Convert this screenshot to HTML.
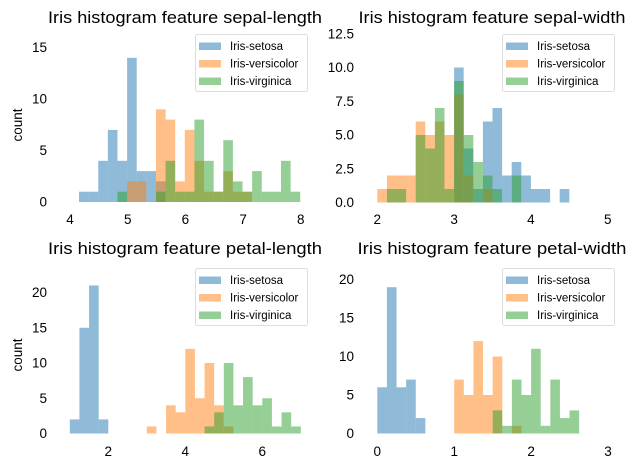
<!DOCTYPE html>
<html><head><meta charset="utf-8">
<style>
html,body{margin:0;padding:0;background:#fff;}
svg{display:block;font-family:"Liberation Sans","DejaVu Sans",sans-serif;}
</style></head>
<body>
<svg id="fig" width="636" height="469" viewBox="0 0 636 469" xmlns="http://www.w3.org/2000/svg"></svg>
<script>
const species = ["Iris-setosa","Iris-versicolor","Iris-virginica"];
// panel 1: sepal-length
const slBinStart = 4.156, slBinWidth = 0.1667;
const slSetosa     = [1,1,4,7,4,14,3,3,2,0,0,0,0,0,0,0,0,0,0,0,0,0,0];
const slVersicolor = [0,0,0,0,0,2,2,0,9,8,2,7,4,1,1,3,1,1,0,0,0,0,0];
const slVirginica  = [0,0,0,0,1,0,0,0,1,4,1,1,8,4,1,6,2,1,3,1,1,4,1];
const slYTicks = [0,5,10,15], slXTicks = [4,5,6,7,8];
// panel 2: sepal-width
const swBinStart = 2.0, swBinWidth = 0.125;
const swSetosa     = [0,0,0,0,0,0,0,0,10,4,1,6,7,2,3,2,1,1,0,1];
const swVersicolor = [1,2,2,2,6,5,6,5,8,2,0,1,0,0,0,0,0,0,0,0];
const swVirginica  = [0,1,1,0,5,4,7,1,9,5,3,2,1,0,2,0,0,0,0,0];
const swYTicks = [0,2.5,5,7.5,10,12.5], swXTicks = [2,3,4,5];
// panel 3: petal-length
const plBinStart = 1.0, plBinWidth = 0.25;
const plSetosa     = [2,15,21,2,0,0,0,0,0,0,0,0,0,0,0,0,0,0,0,0,0,0,0,0];
const plVersicolor = [0,0,0,0,0,0,0,0,1,0,4,3,12,5,10,4,1,0,0,0,0,0,0,0];
const plVirginica  = [0,0,0,0,0,0,0,0,0,0,0,0,0,0,1,3,10,4,8,4,5,1,3,1];
const plYTicks = [0,5,10,15,20], plXTicks = [2,4,6];
// panel 4: petal-width
const pwBinStart = 0.0, pwBinWidth = 0.125;
const pwSetosa     = [6,19,6,7,2,0,0,0,0,0,0,0,0,0,0,0,0,0,0,0,0];
const pwVersicolor = [0,0,0,0,0,0,0,0,7,5,12,5,10,0,1,0,0,0,0,0,0];
const pwVirginica  = [0,0,0,0,0,0,0,0,0,0,0,0,3,1,7,5,11,1,7,2,3];
const pwYTicks = [0,5,10,15,20], pwXTicks = [0,1,2,3];

const colors = ["#1f77b4","#ff7f0e","#2ca02c"];
const NS = "http://www.w3.org/2000/svg";
const fig = document.getElementById('fig');
function mk(tag, attrs, parent){const e=document.createElementNS(NS,tag);for(const k in attrs)e.setAttribute(k,attrs[k]);(parent||fig).appendChild(e);return e;}

const panels = [
 {key:"sepal-length",start:slBinStart,w:slBinWidth,series:[slSetosa,slVersicolor,slVirginica],yt:slYTicks,xt:slXTicks,
  x0:4,px0:70,ppu:57.7,y0px:202,ppc:10.3,title:[185,23],tlen:274,legend:[195,34],ylab:true,ylabY:125,xlabY:224,ytx:47,ydec:0},
 {key:"sepal-width",start:swBinStart,w:swBinWidth,series:[swSetosa,swVersicolor,swVirginica],yt:swYTicks,xt:swXTicks,
  x0:2,px0:377.3,ppu:76.8,y0px:202.5,ppc:13.5,title:[492,23],tlen:267,legend:[502,34],ylab:false,xlabY:224,ytx:354,ydec:1},
 {key:"petal-length",start:plBinStart,w:plBinWidth,series:[plSetosa,plVersicolor,plVirginica],yt:plYTicks,xt:plXTicks,
  x0:2,px0:108.3,ppu:38.5,y0px:433.5,ppc:7.05,title:[185,254],tlen:274,legend:[195,268],ylab:true,ylabY:355,xlabY:456,ytx:47,ydec:0},
 {key:"petal-width",start:pwBinStart,w:pwBinWidth,series:[pwSetosa,pwVersicolor,pwVirginica],yt:pwYTicks,xt:pwXTicks,
  x0:0,px0:377.3,ppu:76.9,y0px:433.5,ppc:7.7,title:[492,254],tlen:269,legend:[502,268],ylab:false,xlabY:456,ytx:354,ydec:0}
];

panels.forEach(p=>{
  const g = mk('g',{});
  
  
  const xs = v => p.px0 + (v - p.x0)*p.ppu;
  const ys = c => p.y0px - c*p.ppc;
  p.series.forEach((arr,si)=>{
    arr.forEach((c,i)=>{
      if(!c) return;
      const a = xs(p.start + i*p.w), b = xs(p.start + (i+1)*p.w);
      const r = mk('rect',{x:a,y:ys(c),width:b-a,height:c*p.ppc,fill:colors[si],'fill-opacity':0.5},g);
      
      
    });
  });
  p.xt.forEach(t=>{
    const e = mk('text',{x:xs(t),y:p.xlabY,'font-size':13.5,'text-anchor':'middle',fill:'#000'},g);
    e.textContent = t;
    
    
  });
  p.yt.forEach(t=>{
    const e = mk('text',{x:p.ytx,y:ys(t)+4.5,'font-size':13.5,'text-anchor':'end',fill:'#000'},g);
    e.textContent = t.toFixed(p.ydec);
    
    
  });
  const tt = mk('text',{x:p.title[0],y:p.title[1],'font-size':16.5,'text-anchor':'middle',fill:'#000',textLength:p.tlen,lengthAdjust:'spacingAndGlyphs'},g);
  tt.textContent = 'Iris histogram feature '+p.key;
  
  
  if(p.ylab){
    const yl = mk('text',{x:0,y:0,'font-size':13.5,'text-anchor':'middle',fill:'#000',transform:'translate(22,'+p.ylabY+') rotate(-90)'},g);
    yl.textContent = 'count';
    
    
  }
  const [lx,ly] = p.legend;
  const lg = mk('g',{},g);
  
  
  mk('rect',{x:lx+0.5,y:ly+0.5,width:112,height:57,rx:2,fill:'#fff','fill-opacity':0.8,stroke:'#ddd'},lg);
  species.forEach((s,si)=>{
    const cy = ly + 12 + si*17.5;
    const sw = mk('rect',{x:lx+4,y:cy-3.5,width:22,height:7.5,fill:colors[si],'fill-opacity':0.5},lg);
    
    
    const lt = mk('text',{x:lx+35,y:cy+4,'font-size':11.5,fill:'#000'},lg);
    lt.textContent = s;
    
    
  });
});
</script>
</body></html>
